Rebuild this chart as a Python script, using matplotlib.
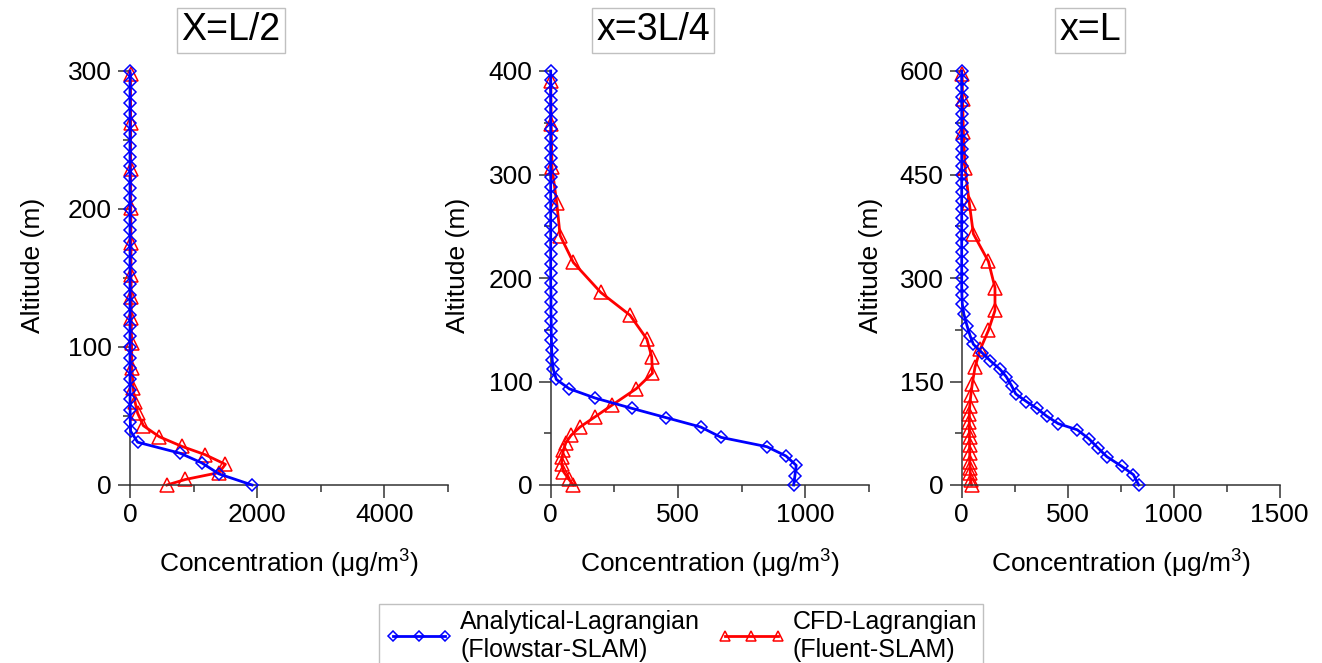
import matplotlib
matplotlib.use("Agg")
import matplotlib.pyplot as plt
from matplotlib.ticker import MultipleLocator

plt.rcParams["font.family"] = ["Liberation Sans", "DejaVu Sans"]
plt.rcParams["mathtext.fontset"] = "custom"
plt.rcParams["mathtext.rm"] = "Liberation Sans"
plt.rcParams["mathtext.it"] = "Liberation Sans"

# ---- X = L/2 ----
alt_half_analytical = [0, 8, 16, 23, 31, 39, 46, 54, 62, 69, 77, 85, 92, 100, 108, 115,
                       123, 131, 138, 146, 154, 162, 169, 177, 185, 192, 200, 208, 215,
                       223, 231, 238, 246, 254, 262, 269, 277, 285, 292, 300]
conc_half_analytical = [1920, 1400, 1130, 790, 120, 10, 4, 2, 1, 1, 0, 0, 0, 0, 0, 0,
                        0, 0, 0, 0, 0, 0, 0, 0, 0, 0, 0, 0, 0,
                        0, 0, 0, 0, 0, 0, 0, 0, 0, 0, 0]
alt_half_cfd = [0, 4, 9, 15, 22, 28, 35, 43, 52, 60, 70, 85, 103, 121, 136, 152,
                175, 201, 229, 262, 298]
conc_half_cfd = [580, 870, 1400, 1500, 1180, 815, 460, 210, 120, 80, 50, 30, 25, 20,
                 20, 15, 15, 12, 10, 10, 8]

# ---- x = 3L/4 ----
alt_3q_analytical = [0, 9, 19, 28, 37, 46, 56, 65, 74, 84, 93, 102, 112, 121, 130, 140,
                     149, 158, 167, 177, 186, 195, 205, 214, 223, 233, 242, 251, 260,
                     270, 279, 288, 298, 307, 316, 326, 335, 344, 353, 363, 372, 381,
                     391, 400]
conc_3q_analytical = [955, 960, 965, 925, 850, 670, 590, 455, 320, 175, 73, 22, 10, 6,
                      4, 3, 2, 2, 1, 1, 1, 0, 0, 0, 0, 0, 0, 0, 0,
                      0, 0, 0, 0, 0, 0, 0, 0, 0, 0, 0, 0, 0, 0, 0]
alt_3q_cfd = [0, 6, 13, 20, 27, 34, 41, 48, 56, 66, 77, 93, 108, 124, 141, 164, 186,
              215, 241, 272, 307, 349, 390]
conc_3q_cfd = [89, 70, 50, 43, 45, 50, 60, 80, 115, 175, 240, 336, 400, 397, 378, 312,
               197, 89, 37, 24, 5, 2, 0]

# ---- x = L ----
alt_l_analytical = [0, 15, 27, 41, 53, 67, 80, 89, 100, 111, 121, 132, 144, 157, 168,
                    180, 192, 204, 216, 231, 248, 262, 275, 287, 300, 312, 325, 337,
                    350, 362, 375, 387, 400, 412, 425, 437, 450, 462, 475, 487, 500,
                    512, 525, 537, 550, 562, 575, 587, 600]
conc_l_analytical = [835, 810, 755, 685, 645, 600, 545, 455, 400, 355, 305, 255, 235,
                     210, 180, 135, 95, 55, 40, 25, 10, 3, 1, 0, 0, 0, 0, 0,
                     0, 0, 0, 0, 0, 0, 0, 0, 0, 0, 0, 0, 0,
                     0, 0, 0, 0, 0, 0, 0, 0]
alt_l_cfd = [0, 7, 17, 24, 34, 46, 58, 70, 79, 91, 103, 115, 130, 147, 171, 197, 224,
             253, 286, 324, 364, 408, 459, 512, 560, 595]
conc_l_cfd = [47, 42, 40, 40, 38, 38, 37, 37, 36, 36, 36, 38, 43, 50, 63, 88, 126,
              157, 157, 126, 55, 36, 16, 8, 4, 2]

titles = ["X=L/2", "x=3L/4", "x=L"]
label_analytical = "Analytical-Lagrangian\n(Flowstar-SLAM)"
label_cfd = "CFD-Lagrangian\n(Fluent-SLAM)"

W, H = 1322, 663
FS = 19


def plot_panel(fig, left_px, title, title_x_px, xmax, xmajor, ymax, ymajor,
               ylabel_x, a_alt, a_conc, c_alt, c_conc):
    ax = fig.add_axes([left_px / W, (H - 485) / H, 318 / W, 414 / H])
    l1, = ax.plot(a_conc, a_alt, color="#0000ff", lw=2, marker="D", ms=6.5,
                  mfc="none", mec="#0000ff", mew=1.1, clip_on=False, zorder=3)
    l2, = ax.plot(c_conc, c_alt, color="#ff0000", lw=2, marker="^", ms=9.5,
                  mfc="none", mec="#ff0000", mew=1.1, clip_on=False, zorder=2)
    ax.set_xlim(0, xmax)
    ax.set_ylim(0, ymax)
    ax.xaxis.set_major_locator(MultipleLocator(xmajor))
    ax.xaxis.set_minor_locator(MultipleLocator(xmajor / 2))
    ax.yaxis.set_major_locator(MultipleLocator(ymajor))
    ax.yaxis.set_minor_locator(MultipleLocator(ymajor / 2))
    for side in ["top", "right"]:
        ax.spines[side].set_visible(False)
    for side in ["left", "bottom"]:
        ax.spines[side].set_color("#333333")
        ax.spines[side].set_linewidth(1.1)
    ax.tick_params(which="major", direction="out", length=9, width=1.1,
                   color="#333333", labelsize=FS, pad=4)
    ax.tick_params(which="minor", direction="out", length=5, width=1.1,
                   color="#333333")
    ax.set_xlabel("Concentration (μg/m$^{3}$)", fontsize=FS, labelpad=15)
    ax.set_ylabel("Altitude (m)", fontsize=FS)
    ax.yaxis.set_label_coords(ylabel_x, 0.53)
    fig.text(title_x_px / W, 1 - 30 / H, title, fontsize=27, ha="center",
             va="center",
             bbox=dict(boxstyle="square,pad=0.12", fc="white", ec="#c0c0c0", lw=1))
    return l1, l2


def main():
    fig = plt.figure(figsize=(W / 100, H / 100), dpi=100)
    l1, l2 = plot_panel(fig, 130, titles[0], 231, 5000, 2000, 300, 100, -0.268,
                        alt_half_analytical, conc_half_analytical,
                        alt_half_cfd, conc_half_cfd)
    plot_panel(fig, 550.7, titles[1], 653, 1250, 500, 400, 100, -0.253,
               alt_3q_analytical, conc_3q_analytical, alt_3q_cfd, conc_3q_cfd)
    plot_panel(fig, 961.7, titles[2], 1090, 1500, 500, 600, 150, -0.248,
               alt_l_analytical, conc_l_analytical, alt_l_cfd, conc_l_cfd)

    leg = fig.legend([l1, l2], [label_analytical, label_cfd], ncol=2,
                     loc="upper center", bbox_to_anchor=(681 / W, 1 - 591 / H),
                     fontsize=18, numpoints=3, handlelength=2.7,
                     handletextpad=0.3, columnspacing=0.7, borderpad=0.25,
                     markerscale=0.75, fancybox=False, edgecolor="#c0c0c0",
                     framealpha=1)
    leg.get_frame().set_linewidth(1)
    fig.savefig("out.png", dpi=100)


if __name__ == "__main__":
    main()
